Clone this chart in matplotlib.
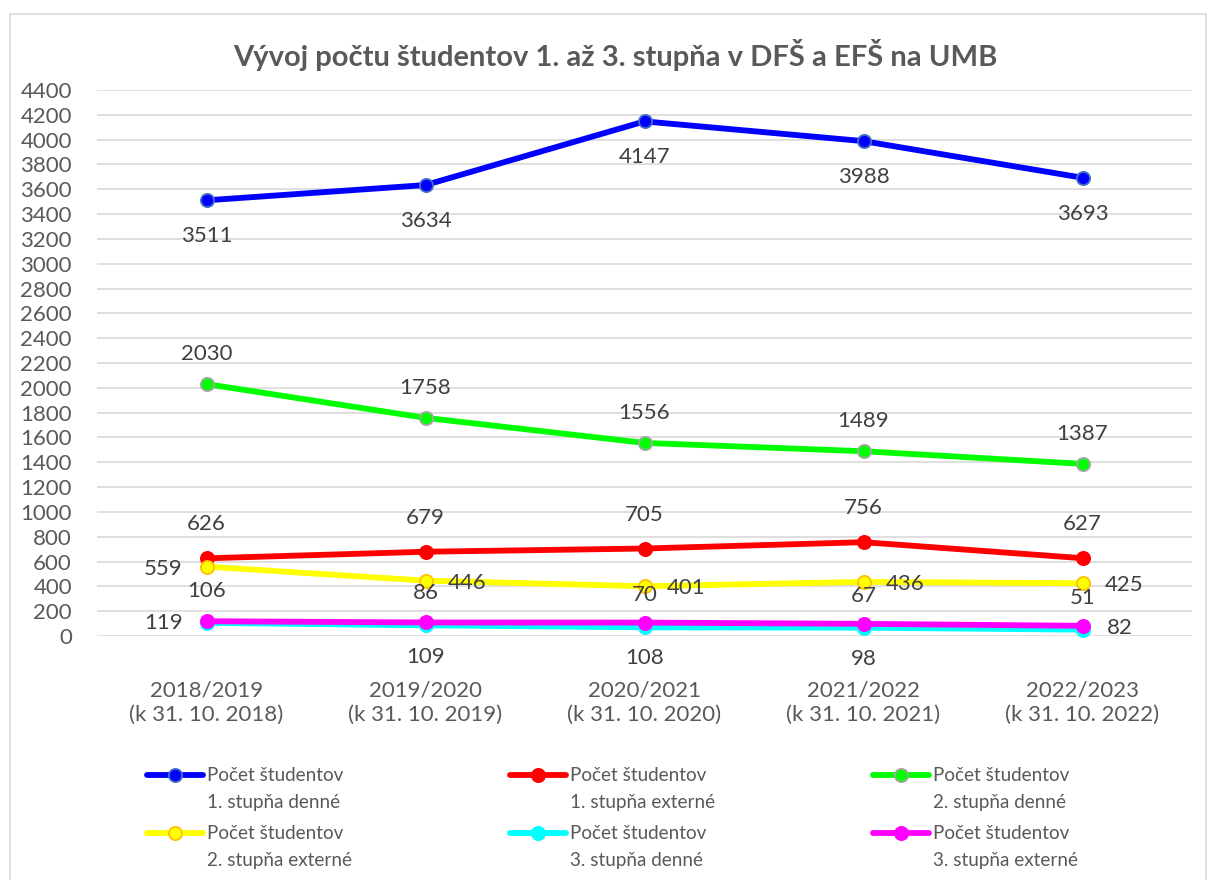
import matplotlib
matplotlib.use("Agg")
import matplotlib.pyplot as plt
from matplotlib.lines import Line2D
from matplotlib.patches import Rectangle

plt.rcParams['font.family'] = ['Lato', 'DejaVu Sans']

categories = ["2018/2019\n(k 31. 10. 2018)", "2019/2020\n(k 31. 10. 2019)",
              "2020/2021\n(k 31. 10. 2020)", "2021/2022\n(k 31. 10. 2021)",
              "2022/2023\n(k 31. 10. 2022)"]
prvy_denne = [3511, 3634, 4147, 3988, 3693]
prvy_externe = [626, 679, 705, 756, 627]
druhy_denne = [2030, 1758, 1556, 1489, 1387]
druhy_externe = [559, 446, 401, 436, 425]
treti_denne = [106, 86, 70, 67, 51]
treti_externe = [119, 109, 108, 98, 82]
names = ["Počet študentov\n1. stupňa denné", "Počet študentov\n1. stupňa externé",
         "Počet študentov\n2. stupňa denné", "Počet študentov\n2. stupňa externé",
         "Počet študentov\n3. stupňa denné", "Počet študentov\n3. stupňa externé"]
title = "Vývoj počtu študentov 1. až 3. stupňa v DFŠ a EFŠ na UMB"

W, H = 1209, 880
fig = plt.figure(figsize=(W / 100, H / 100), dpi=100)
fig.patches.append(Rectangle((10 / W, -0.01), (1206 - 10) / W, 1 - 14 / H + 0.01,
                             transform=fig.transFigure, fill=False,
                             edgecolor='#D9D9D9', lw=1.2))
ax = fig.add_axes([97 / W, (H - 636) / H, (1192 - 97) / W, 546 / H])

x = list(range(len(categories)))
gray = '#595959'
series = [
    (prvy_denne, '#0000FF', '#0000FF', '#4472C4'),
    (prvy_externe, '#FF0000', '#FF0000', '#FF0000'),
    (druhy_denne, '#00FF00', '#00FF00', '#A5A5A5'),
    (druhy_externe, '#FFFF00', '#FFFF00', '#FFC000'),
    (treti_denne, '#00FFFF', '#00FFFF', '#00FFFF'),
    (treti_externe, '#FF00FF', '#FF00FF', '#FF00FF'),
]
line_kw = dict(lw=4.2, marker='o', ms=9.5, mew=1.3, solid_capstyle='round')
for (vals, c, mfc, mec), nm in zip(series, names):
    ax.plot(x, vals, color=c, mfc=mfc, mec=mec, label=nm, clip_on=False,
            zorder=3, **line_kw)

lab_kw = dict(textcoords='offset pixels', fontsize=16, color='#404040',
              annotation_clip=False, zorder=5)

def label(xi, v, dx, dy, ha='center'):
    ax.annotate(str(v), (xi, v), xytext=(dx, dy), ha=ha, va='center', **lab_kw)

for i in x:
    label(i, prvy_denne[i], 0, -36)
    label(i, prvy_externe[i], 0, 34)
    label(i, druhy_denne[i], 0, 30)
    label(i, treti_denne[i], 0, 32)
    if i == 0:
        label(i, druhy_externe[i], -24, -2, 'right')
        label(i, treti_externe[i], -24, -2, 'right')
    else:
        label(i, druhy_externe[i], 22, -2, 'left')
        if i == len(x) - 1:
            label(i, treti_externe[i], 24, -2, 'left')
        else:
            label(i, treti_externe[i], 0, -35)

ax.set_xlim(-0.5, len(x) - 0.5)
ax.set_ylim(0, 4400)
ax.set_yticks(range(0, 4401, 200))
ax.set_xticks(x)
ax.set_xticklabels(categories, linespacing=1.25)
ax.tick_params(axis='y', length=0, pad=18, labelsize=16, labelcolor=gray)
ax.tick_params(axis='x', length=0, pad=32, labelsize=16, labelcolor=gray)
ax.grid(axis='y', color='#D9D9D9', lw=1.2)
ax.set_axisbelow(True)
for s in ax.spines.values():
    s.set_visible(False)

fig.text(615 / W, 1 - 55 / H, title, ha='center', va='center', fontsize=21,
         fontweight='bold', color=gray)

# legend: 3 columns x 2 rows, handle aligned with first text line
col_x = [147, 510, 873]
row_y = [775, 833]
for k, (vals, c, mfc, mec) in enumerate(series):
    r, cidx = divmod(k, 3)
    x0 = col_x[cidx]
    y0 = 1 - row_y[r] / H
    fig.add_artist(Line2D([x0 / W, (x0 + 28) / W, (x0 + 56) / W], [y0, y0, y0],
                          transform=fig.transFigure, color=c, mfc=mfc, mec=mec,
                          markevery=[1], **line_kw))
    first, second = names[k].split("\n")
    fig.text((x0 + 60) / W, y0, first, ha='left', va='center', fontsize=13.6,
             color=gray)
    fig.text((x0 + 60) / W, 1 - (row_y[r] + 27) / H, second, ha='left',
             va='center', fontsize=13.6, color=gray)

fig.savefig('out.png', dpi=100)
